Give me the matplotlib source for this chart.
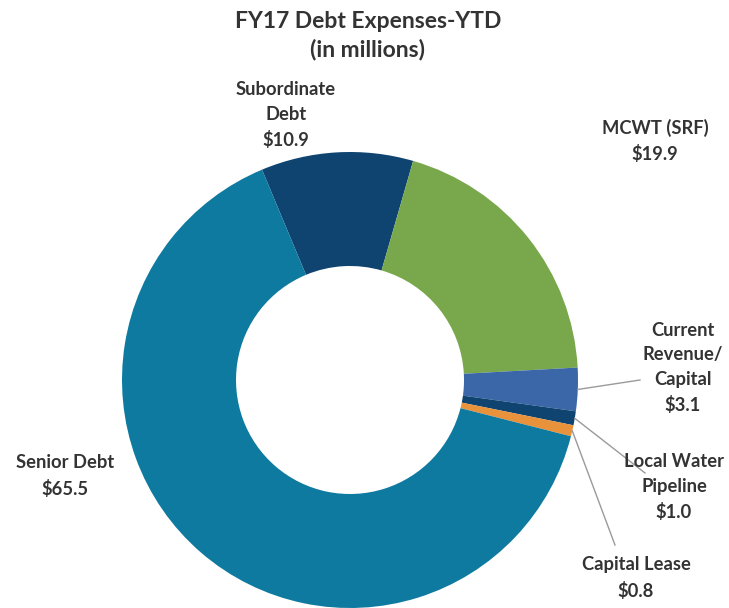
import numpy as np
import matplotlib.pyplot as plt

plt.rcParams['font.family'] = ['Lato', 'DejaVu Sans']

# data (in millions), clockwise from the top
labels = ["Subordinate\nDebt", "MCWT (SRF)", "Current\nRevenue/\nCapital",
          "Local Water\nPipeline", "Capital Lease", "Senior Debt"]
values = [10.9, 19.9, 3.1, 1.0, 0.8, 65.5]
colors = ["#0f4470", "#79a84c", "#3b66a8", "#0f4470", "#e8923c", "#0e7aa0"]

# label text positions (pixels, y measured from top) and leader line ends
label_pos = [(286, 115), (655, 141), (683, 368), (674, 487), (636, 578), (65, 476)]
leader_end = [None, None, (640, 380), (645, 473), (615, 545), None]

W, H = 729, 608
CX, CY, R_OUT, R_IN = 350, 380, 228, 114
TXT = "#333333"

fig = plt.figure(figsize=(W / 100, H / 100), dpi=100)
ax = fig.add_axes([0, 0, 1, 1])

wedges, _ = ax.pie(values, colors=colors, startangle=112.7, counterclock=False,
                   radius=R_OUT, center=(CX, H - CY),
                   wedgeprops=dict(width=R_OUT - R_IN, linewidth=0))
ax.set_xlim(0, W)
ax.set_ylim(0, H)
ax.set_aspect("auto")
ax.axis("off")

for w, lab, val, (tx, ty), end in zip(wedges, labels, values, label_pos, leader_end):
    ax.text(tx, H - ty, f"{lab}\n${val:.1f}", ha="center", va="center",
            fontsize=13.2, fontweight="bold", color=TXT, linespacing=1.55)
    if end is not None:
        mid = np.deg2rad((w.theta1 + w.theta2) / 2)
        x0 = CX + R_OUT * np.cos(mid)
        y0 = (H - CY) + R_OUT * np.sin(mid)
        ax.plot([x0, end[0]], [y0, H - end[1]], color="#9a9a9a", lw=1.0)

fig.text(368 / W, 1 - 21 / H, "FY17 Debt Expenses-YTD", ha="center", va="center",
         fontsize=16.5, fontweight="bold", color=TXT)
fig.text(368 / W, 1 - 50 / H, "(in millions)", ha="center", va="center",
         fontsize=16.5, fontweight="bold", color=TXT)

fig.savefig("out.png", dpi=100, facecolor="white")
